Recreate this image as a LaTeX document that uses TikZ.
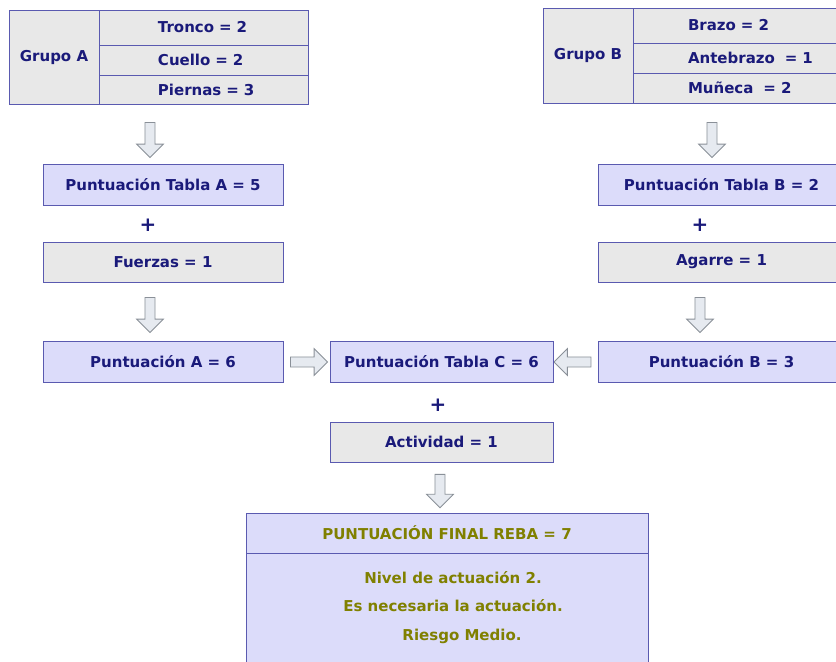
\documentclass[tikz,border=0pt]{standalone}
\usepackage{fontspec}
\setmainfont{DejaVu Sans}
\usetikzlibrary{shapes.arrows,positioning}
\definecolor{navytext}{HTML}{1A1A7A}
\definecolor{olivetext}{HTML}{808000}
\definecolor{lavender}{HTML}{DCDCFA}
\definecolor{cellgray}{HTML}{E8E8E8}
\definecolor{rimblue}{HTML}{5A5AB0}
\definecolor{arrowfill}{HTML}{E6EAF0}
\definecolor{arrowrim}{HTML}{8A9098}
\tikzset{
  box/.style={rectangle,draw=rimblue,line width=.8pt,align=center,
    font=\fontsize{12.8}{15}\selectfont\bfseries,text=navytext,inner sep=0pt},
  scorebox/.style={box,fill=lavender,minimum height=1.23cm},
  factorbox/.style={box,fill=cellgray,minimum height=1.2cm},
  groupcell/.style={box,fill=cellgray},
  rowcell/.style={groupcell,align=left,text width=#1,minimum width=#1},
  plussign/.style={font=\fontsize{17}{17}\selectfont\bfseries,text=navytext,
    inner sep=0pt},
  blockarrow/.style={single arrow,draw=arrowrim,fill=arrowfill,line width=.7pt,
    inner sep=.14cm,single arrow head extend=.25cm,
    minimum height=1.05cm}}

\begin{document}
\begin{tikzpicture}[x=.03cm,y=-.03cm]
  \useasboundingbox (0,0) rectangle (836,661);

  % grupo A
  \node[groupcell,minimum width=2.7cm,minimum height=2.82cm] (ga) at (54,57)
    {Grupo A};
  \node[rowcell=6.27cm,minimum height=1.05cm] (gatr) at (203.5,27.5)
    {\hspace*{1.77cm}Tronco = 2};
  \node[rowcell=6.27cm,minimum height=.9cm] (gacu) at (203.5,60)
    {\hspace*{1.77cm}Cuello = 2};
  \node[rowcell=6.27cm,minimum height=.87cm] (gapi) at (203.5,89.5)
    {\hspace*{1.77cm}Piernas = 3};

  % grupo B
  \node[groupcell,minimum width=2.7cm,minimum height=2.85cm] (gb) at (588,55.5)
    {Grupo B};
  \node[rowcell=6.36cm,minimum height=1.05cm] (gbbr) at (739,25.5)
    {\hspace*{1.65cm}Brazo = 2};
  \node[rowcell=6.36cm,minimum height=.9cm] (gban) at (739,58)
    {\hspace*{1.65cm}Antebrazo~ = 1};
  \node[rowcell=6.36cm,minimum height=.9cm] (gbmu) at (739,88)
    {\hspace*{1.65cm}Muñeca~ = 2};

  % columna A
  \node[blockarrow,rotate=-90] (arra) at (150,137.5) {};
  \node[scorebox,minimum width=7.2cm] (tabla) at (163,184.5)
    {Puntuación Tabla A = 5};
  \node[plussign] (plusa) at (148,225) {+};
  \node[factorbox,minimum width=7.2cm] (fuerzas) at (163,262) {Fuerzas = 1};
  \node[blockarrow,rotate=-90] (arrb) at (150,312.5) {};
  \node[scorebox,minimum width=7.2cm] (punta) at (163,362) {Puntuación A = 6};

  % columna B
  \node[blockarrow,rotate=-90] (arrc) at (712,137.5) {};
  \node[scorebox,minimum width=7.41cm] (tablb) at (721.5,184.5)
    {Puntuación Tabla B = 2};
  \node[plussign] (plusb) at (700,225) {+};
  \node[factorbox,minimum width=7.41cm] (agarre) at (721.5,262) {Agarre = 1};
  \node[blockarrow,rotate=-90] (arrd) at (700,312.5) {};
  \node[scorebox,minimum width=7.41cm] (puntb) at (721.5,362) {Puntuación B = 3};

  % tabla C
  \node[blockarrow,minimum height=1.11cm] (arre) at (306.5,362) {};
  \node[blockarrow,minimum height=1.11cm,rotate=180] (arrf) at (575,362) {};
  \node[scorebox,minimum width=6.69cm] (tablc) at (441.5,362)
    {Puntuación Tabla C = 6};
  \node[plussign] (plusc) at (438,405) {+};
  \node[factorbox,minimum width=6.69cm] (activ) at (441.5,442) {Actividad = 1};
  \node[blockarrow,minimum height=1cm,rotate=-90] (arrg) at (440,488.5) {};

  % resultado final
  \node[scorebox,minimum width=12.06cm,minimum height=1.2cm,text=olivetext]
    (final) at (447,533) {PUNTUACIÓN FINAL REBA = 7};
  \node[box,fill=lavender,minimum width=12.06cm,minimum height=3.51cm]
    (nivel) at (447,611.5) {};
  \node[align=center,font=\fontsize{12.8}{15}\selectfont\bfseries,
    text=olivetext,inner sep=0pt] (nivtxt) at (453,607.5)
    {Nivel de actuación 2.\\[9.3pt]
     Es necesaria la actuación.\\[9.3pt]
     \hspace*{1.2em}Riesgo Medio.};
\end{tikzpicture}
\end{document}
